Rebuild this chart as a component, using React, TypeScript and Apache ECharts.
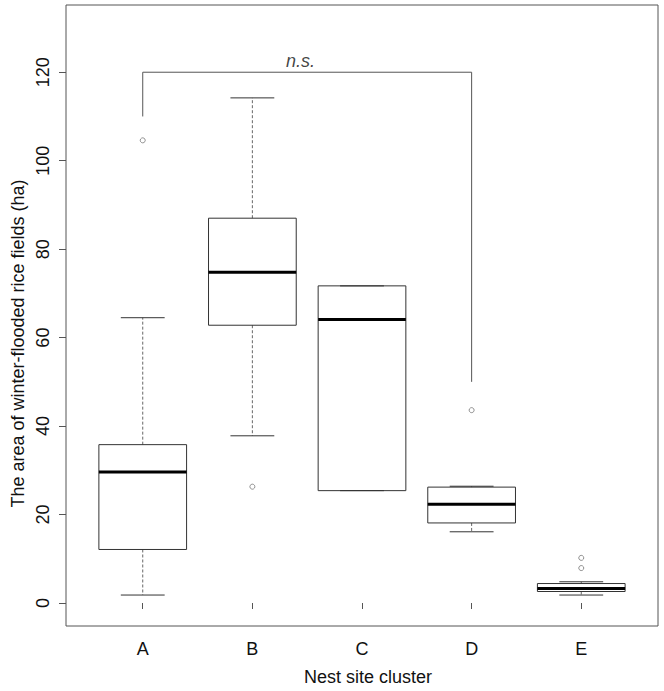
import React, { useEffect, useRef } from "react";
import * as echarts from "echarts";

const categories = ["A", "B", "C", "D", "E"];
const lowerWhisker = [1.8, 37.8, 25.4, 16.1, 1.8];
const q1 = [12.1, 62.8, 25.4, 18.1, 2.6];
const median = [29.6, 74.8, 64.1, 22.3, 3.3];
const q3 = [35.8, 87.0, 71.7, 26.2, 4.4];
const upperWhisker = [64.5, 114.2, 71.7, 26.4, 4.8];
const outliers: [number, number][] = [
  [1, 104.6],
  [2, 26.3],
  [4, 43.6],
  [5, 10.2],
  [5, 7.9],
];
const yTicks = [0, 20, 40, 60, 80, 100, 120];
const bracket: [number, number][] = [
  [1, 110],
  [1, 120],
  [4, 120],
  [4, 50],
];
const bracketLabel = "n.s.";
const xTitle = "Nest site cluster";
const yTitle = "The area of winter-flooded rice fields (ha)";

export default function App() {
  const ref = useRef<HTMLDivElement>(null);
  useEffect(() => {
    if (!ref.current) return;
    const chart = echarts.init(ref.current, null, { renderer: "svg" });
    const font = "'Liberation Sans', Arial, sans-serif";
    const fs = 18;
    const boxData = categories.map((_, i) => [
      i + 1,
      lowerWhisker[i],
      q1[i],
      median[i],
      q3[i],
      upperWhisker[i],
    ]);
    chart.setOption({
      animation: false,
      backgroundColor: "#fff",
      grid: {
        left: 66,
        top: 5,
        right: 6,
        bottom: 65,
        show: true,
        borderColor: "#555",
        borderWidth: 1,
        backgroundColor: "transparent",
      },
      graphic: [
        {
          type: "text",
          x: 368,
          y: 677,
          style: {
            text: xTitle,
            fontFamily: font,
            fontSize: fs,
            fill: "#111",
            textAlign: "center",
            textVerticalAlign: "middle",
          },
        },
        {
          type: "text",
          x: 18,
          y: 343.5,
          rotation: Math.PI / 2,
          style: {
            text: yTitle,
            fontFamily: font,
            fontSize: fs,
            fill: "#111",
            textAlign: "center",
            textVerticalAlign: "middle",
          },
        },
      ],
      xAxis: {
        type: "value",
        min: 0.3,
        max: 5.7,
        axisLine: { show: false },
        splitLine: { show: false },
        axisTick: {
          show: true,
          length: 6,
          lineStyle: { color: "#555" },
          customValues: [1, 2, 3, 4, 5],
        },
        axisLabel: {
          customValues: [1, 2, 3, 4, 5],
          formatter: (v: number) => categories[Math.round(v) - 1] ?? "",
          fontFamily: font,
          fontSize: fs,
          color: "#111",
          margin: 14,
        },
      },
      yAxis: {
        type: "value",
        min: -5.2,
        max: 135.2,
        axisLine: { show: false },
        splitLine: { show: false },
        axisTick: {
          show: true,
          length: 7,
          lineStyle: { color: "#555" },
          customValues: yTicks,
        },
        axisLabel: {
          customValues: yTicks,
          rotate: 90,
          fontFamily: font,
          fontSize: fs,
          color: "#111",
          margin: 14,
        },
      },
      series: [
        {
          type: "custom",
          data: boxData,
          renderItem: (params: any, api: any) => {
            const x = api.value(0);
            const lo = api.value(1);
            const b1 = api.value(2);
            const md = api.value(3);
            const b3 = api.value(4);
            const hi = api.value(5);
            const tl = api.coord([x - 0.4, b3]);
            const br = api.coord([x + 0.4, b1]);
            const cl = api.coord([x - 0.2, hi]);
            const cr = api.coord([x + 0.2, hi]);
            const ll = api.coord([x - 0.2, lo]);
            const lr = api.coord([x + 0.2, lo]);
            const c3 = api.coord([x, b3]);
            const c1 = api.coord([x, b1]);
            const ml = api.coord([x - 0.4, md]);
            const mr = api.coord([x + 0.4, md]);
            const cx = c3[0];
            const children: any[] = [];
            if (hi > b3) {
              children.push({
                type: "line",
                shape: { x1: cx, y1: c3[1], x2: cx, y2: cl[1] },
                style: { stroke: "#666", lineWidth: 1, lineDash: [3, 2] },
              });
            }
            if (lo < b1) {
              children.push({
                type: "line",
                shape: { x1: cx, y1: c1[1], x2: cx, y2: ll[1] },
                style: { stroke: "#666", lineWidth: 1, lineDash: [3, 2] },
              });
            }
            children.push({
              type: "line",
              shape: { x1: cl[0], y1: cl[1], x2: cr[0], y2: cr[1] },
              style: { stroke: "#333", lineWidth: 1 },
            });
            children.push({
              type: "line",
              shape: { x1: ll[0], y1: ll[1], x2: lr[0], y2: lr[1] },
              style: { stroke: "#333", lineWidth: 1 },
            });
            children.push({
              type: "rect",
              shape: { x: tl[0], y: tl[1], width: br[0] - tl[0], height: br[1] - tl[1] },
              style: { fill: "none", stroke: "#333", lineWidth: 1 },
            });
            children.push({
              type: "line",
              shape: { x1: ml[0], y1: ml[1], x2: mr[0], y2: mr[1] },
              style: { stroke: "#000", lineWidth: 3 },
            });
            return { type: "group", children };
          },
          z: 2,
        },
        {
          type: "scatter",
          data: outliers,
          symbol: "circle",
          symbolSize: 5,
          itemStyle: { color: "#fff", borderColor: "#555", borderWidth: 0.8 },
          z: 3,
        },
        {
          type: "line",
          data: bracket,
          symbol: "none",
          lineStyle: { color: "#555", width: 1 },
          z: 2,
        },
        {
          type: "scatter",
          data: [[2.44, 120]],
          symbolSize: 0,
          label: {
            show: true,
            position: "top",
            distance: 2,
            formatter: bracketLabel,
            fontFamily: font,
            fontStyle: "italic",
            fontSize: fs,
            color: "#111",
          },
          z: 3,
        },
      ],
    });
    return () => chart.dispose();
  }, []);
  return (
    <div
      ref={ref}
      style={{ position: "fixed", left: 0, top: 0, width: 664, height: 691 }}
    />
  );
}
